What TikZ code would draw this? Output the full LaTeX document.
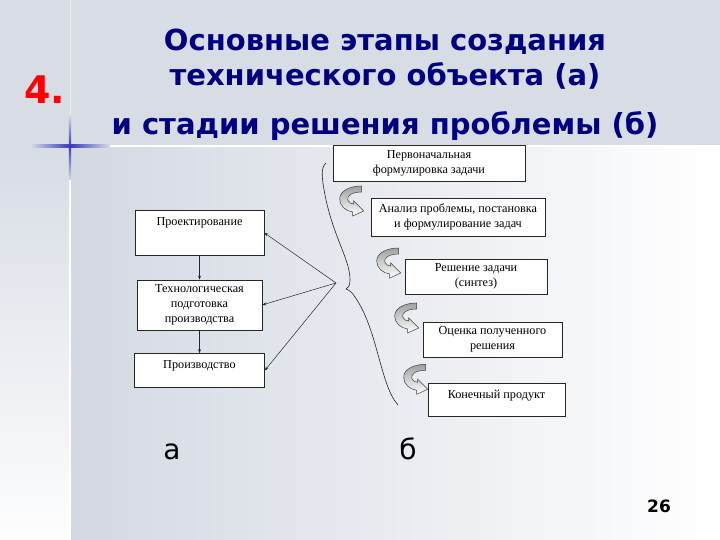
\documentclass[tikz,border=0pt]{standalone}
\usepackage{fontspec}
\setmainfont{Liberation Serif}
\newfontfamily\headfont{DejaVu Sans}
\usetikzlibrary{arrows.meta,positioning}
\definecolor{navy}{HTML}{000080}
\definecolor{band}{HTML}{D7DCE5}
\definecolor{pane}{HTML}{D3D8E2}
\definecolor{cross}{HTML}{3A3AB8}

\tikzset{
  curl/.pic={
    \path[draw=black!75, line width=0.5pt, top color=gray!75, middle color=white, bottom color=white]
      (22,0) -- (22,6)
      .. controls (12,6) and (7,10) .. (8,14)
      .. controls (9,17) and (12,18) .. (14,18)
      -- (14,15) -- (24,25) -- (13,30) -- (13,26)
      .. controls (6,25) and (0,20) .. (0,13)
      .. controls (0,5) and (10,0) .. (22,0) -- cycle;
  }
}

\begin{document}
\begin{tikzpicture}[
  x=1pt, y=-1pt,
  box/.style={draw=black!85, fill=white, line width=0.6pt, inner sep=3pt,
              font=\fontsize{12.2}{15}\selectfont, align=center},
  topbox/.style={box, text height=12pt, anchor=north},
  arr/.style={-{Stealth[length=4pt,width=3pt]}, draw=black!85, line width=0.5pt},
  heading/.style={font=\headfont\bfseries\fontsize{29}{34}\selectfont, text=navy, anchor=base}
]
% slide background
\useasboundingbox (0,0) rectangle (720,540);
\fill[band] (0,0) rectangle (720,146);
\shade[top color=band, bottom color=white!96!band] (0,146) rectangle (70,540);
\shade[left color=pane, right color=white] (70,146) rectangle (720,540);
\draw[white, line width=2pt] (110,146) -- (720,146);
\draw[white, line width=1.2pt] (70,180) -- (70,540);
\draw[white!55!band, line width=1pt] (70,0) -- (70,115);
\shade[left color=band, right color=cross] (30,145) rectangle (70,147.4);
\shade[left color=cross, right color=band] (70,145) rectangle (110,147.4);
\shade[top color=band, bottom color=cross] (68.9,115) rectangle (71.1,146);
\shade[top color=cross, bottom color=pane] (68.9,146) rectangle (71.1,180);

% heading
\node[heading] (t1) at (385,51) {Основные этапы создания};
\node[heading] (t2) at ([yshift=-35pt]t1.base) {технического объекта (а)};
\node[heading] (t3) at ([yshift=-49pt]t2.base) {и стадии решения проблемы (б)};
\node[font=\headfont\bfseries\fontsize{38}{40}\selectfont, text=red, anchor=base west]
  (num) at (21,104) {4.};

% (a) stages of the object
\node[topbox, minimum width=129pt, minimum height=45pt, text depth=27pt] (proj)
  at (199.5,210) {Проектирование};
\node[box, below=24pt of proj, minimum width=125pt, minimum height=50pt] (tech)
  {Технологическая\\подготовка\\производства};
\node[topbox, below=23pt of tech, minimum width=130pt, minimum height=34pt, text depth=16pt] (prod)
  {Производство};

\draw[arr] (proj) -- (tech);
\draw[arr] (tech) -- (prod);
\coordinate (hub) at (336,283);
\draw[arr] (hub) -- (proj.east);
\draw[arr] (hub) -- (tech.east);
\draw[arr] (hub) -- (prod.east);

% (b) stages of solving
\node[box, minimum width=192pt, minimum height=36pt] (init) at (429,163)
  {Первоначальная\\формулировка задачи};
\node[box, minimum width=174pt, minimum height=38pt] (anal) at (458,217)
  {Анализ проблемы, постановка\\и формулирование задач};
\node[box, minimum width=142pt, minimum height=35pt] (sol) at (476,276.5)
  {Решение задачи\\(синтез)};
\node[box, minimum width=139pt, minimum height=35pt] (eval) at (492.5,339.5)
  {Оценка полученного\\решения};
\node[topbox, minimum width=137pt, minimum height=33pt, text depth=15pt] (final)
  at (496.5,383) {Конечный продукт};

\pic at ([xshift=-31pt,yshift=31pt]anal.west) {curl};
\pic at ([xshift=-28pt,yshift=28.5pt]sol.west) {curl};
\pic at ([xshift=-28pt,yshift=36.5pt]eval.west) {curl};
\pic at ([xshift=-24pt,yshift=35.5pt]final.west) {curl};

% brace
\draw[black!85, line width=0.6pt]
  (326,163) .. controls (320,168) and (322,180) .. (326,200)
  .. controls (335,240) and (350,260) .. (350,280)
  .. controls (350,286) and (348,288) .. (346,289)
  .. controls (349,290) and (352,292) .. (355,297)
  .. controls (378,330) and (380,385) .. (398,405);

% captions
\node[font=\headfont\fontsize{28}{30}\selectfont, anchor=base] (capa) at (172,459) {а};
\node[font=\headfont\fontsize{28}{30}\selectfont, anchor=base] (capb) at (408,459) {б};
\node[font=\headfont\bfseries\fontsize{17}{20}\selectfont, anchor=base] (page) at (659,512) {26};
\end{tikzpicture}
\end{document}
